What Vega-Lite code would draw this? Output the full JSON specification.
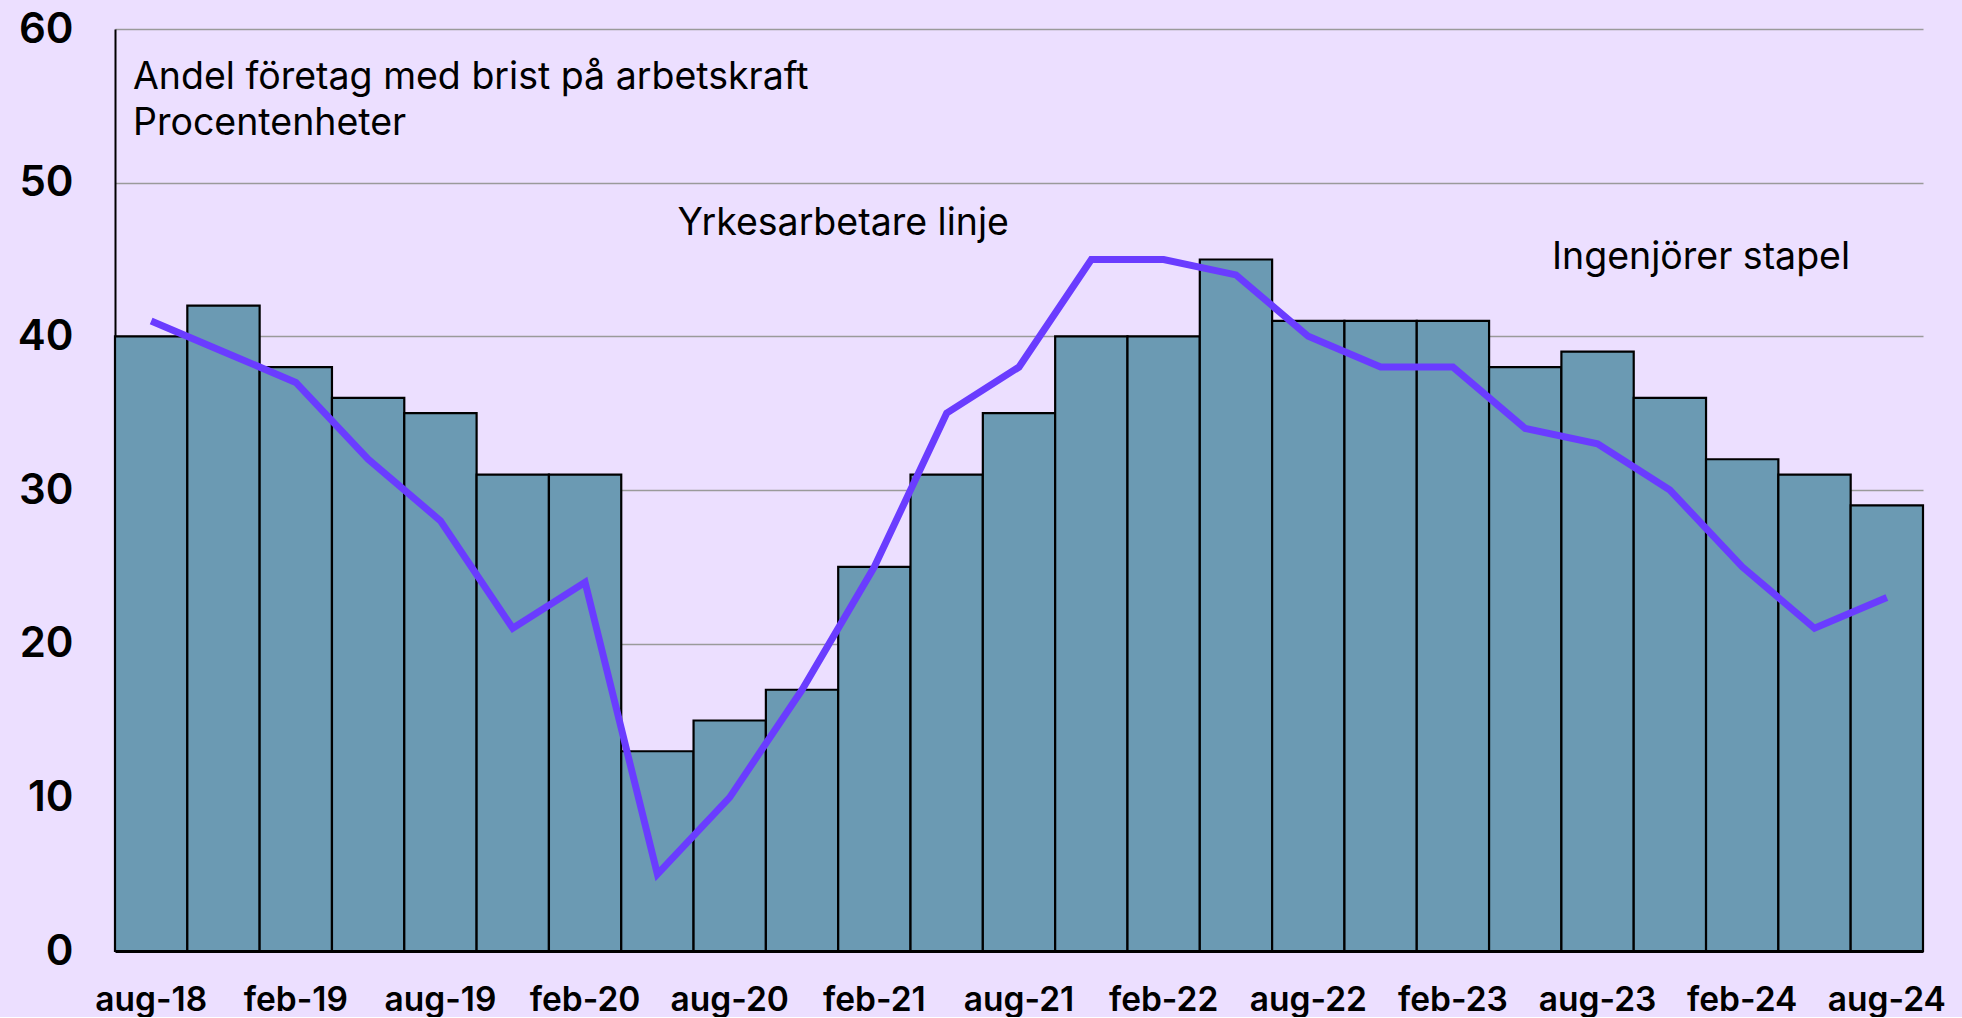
{
  "$schema": "https://vega.github.io/schema/vega-lite/v6.json",
  "autosize": {"type": "none"},
  "padding": {"left": 115, "top": 29, "right": 39, "bottom": 66},
  "width": 1808,
  "height": 922,
  "background": "#ecdfff",
  "config": {
    "view": {"stroke": null},
    "font": "Inter"
  },
  "datasets": {
    "main": [
      {"kvartal": "aug-18", "ingenjorer": 40, "yrkesarbetare": 41},
      {"kvartal": "nov-18", "ingenjorer": 42, "yrkesarbetare": 39},
      {"kvartal": "feb-19", "ingenjorer": 38, "yrkesarbetare": 37},
      {"kvartal": "maj-19", "ingenjorer": 36, "yrkesarbetare": 32},
      {"kvartal": "aug-19", "ingenjorer": 35, "yrkesarbetare": 28},
      {"kvartal": "nov-19", "ingenjorer": 31, "yrkesarbetare": 21},
      {"kvartal": "feb-20", "ingenjorer": 31, "yrkesarbetare": 24},
      {"kvartal": "maj-20", "ingenjorer": 13, "yrkesarbetare": 5},
      {"kvartal": "aug-20", "ingenjorer": 15, "yrkesarbetare": 10},
      {"kvartal": "nov-20", "ingenjorer": 17, "yrkesarbetare": 17},
      {"kvartal": "feb-21", "ingenjorer": 25, "yrkesarbetare": 25},
      {"kvartal": "maj-21", "ingenjorer": 31, "yrkesarbetare": 35},
      {"kvartal": "aug-21", "ingenjorer": 35, "yrkesarbetare": 38},
      {"kvartal": "nov-21", "ingenjorer": 40, "yrkesarbetare": 45},
      {"kvartal": "feb-22", "ingenjorer": 40, "yrkesarbetare": 45},
      {"kvartal": "maj-22", "ingenjorer": 45, "yrkesarbetare": 44},
      {"kvartal": "aug-22", "ingenjorer": 41, "yrkesarbetare": 40},
      {"kvartal": "nov-22", "ingenjorer": 41, "yrkesarbetare": 38},
      {"kvartal": "feb-23", "ingenjorer": 41, "yrkesarbetare": 38},
      {"kvartal": "maj-23", "ingenjorer": 38, "yrkesarbetare": 34},
      {"kvartal": "aug-23", "ingenjorer": 39, "yrkesarbetare": 33},
      {"kvartal": "nov-23", "ingenjorer": 36, "yrkesarbetare": 30},
      {"kvartal": "feb-24", "ingenjorer": 32, "yrkesarbetare": 25},
      {"kvartal": "maj-24", "ingenjorer": 31, "yrkesarbetare": 21},
      {"kvartal": "aug-24", "ingenjorer": 29, "yrkesarbetare": 23}
    ],
    "titel": [
      {"kvartal": "aug-18", "varde": 56.8, "text": "Andel företag med brist på arbetskraft"},
      {"kvartal": "aug-18", "varde": 53.8, "text": "Procentenheter"}
    ],
    "linjeetikett": [
      {"kvartal": "feb-21", "varde": 47.3, "text": "Yrkesarbetare linje"}
    ],
    "stapeletikett": [
      {"kvartal": "feb-24", "varde": 45.1, "text": "Ingenjörer stapel"}
    ]
  },
  "layer": [
    {
      "data": {"name": "main"},
      "mark": {"type": "bar", "color": "#6b9ab3", "stroke": "#000000", "strokeWidth": 2.2},
      "encoding": {
        "x": {
          "field": "kvartal", "type": "ordinal", "sort": null,
          "scale": {"paddingInner": 0, "paddingOuter": 0},
          "axis": {
            "title": null,
            "values": ["aug-18", "feb-19", "aug-19", "feb-20", "aug-20", "feb-21", "aug-21", "feb-22", "aug-22", "feb-23", "aug-23", "feb-24", "aug-24"],
            "labelAngle": 0,
            "labelFont": "Inter",
            "labelFontSize": 33.5,
            "labelFontWeight": 600,
            "labelColor": "#000000",
            "labelPadding": 33,
            "ticks": false,
            "domainColor": "#000000",
            "domainWidth": 3,
            "grid": false
          }
        },
        "y": {
          "field": "ingenjorer", "type": "quantitative",
          "scale": {"domain": [0, 60], "nice": false},
          "axis": {
            "title": null,
            "values": [0, 10, 20, 30, 40, 50, 60],
            "labelFont": "Inter",
            "labelFontSize": 42,
            "labelFontWeight": 600,
            "labelColor": "#000000",
            "labelPadding": 42,
            "ticks": false,
            "domainColor": "#000000",
            "domainWidth": 2,
            "grid": true,
            "gridColor": "#9a9a9a",
            "gridWidth": 1.5
          }
        }
      }
    },
    {
      "data": {"name": "main"},
      "mark": {"type": "line", "color": "#6a3cff", "strokeWidth": 7, "strokeJoin": "miter"},
      "encoding": {
        "x": {"field": "kvartal", "type": "ordinal", "sort": null},
        "y": {"field": "yrkesarbetare", "type": "quantitative"}
      }
    },
    {
      "data": {"name": "titel"},
      "mark": {"type": "text", "align": "left", "baseline": "middle", "dx": 18, "font": "Inter", "fontSize": 37.5, "color": "#000000"},
      "encoding": {
        "x": {"field": "kvartal", "type": "ordinal", "sort": null, "bandPosition": 0},
        "y": {"field": "varde", "type": "quantitative"},
        "text": {"field": "text"}
      }
    },
    {
      "data": {"name": "linjeetikett"},
      "mark": {"type": "text", "align": "center", "baseline": "middle", "dx": 5, "font": "Inter", "fontSize": 37.5, "color": "#000000"},
      "encoding": {
        "x": {"field": "kvartal", "type": "ordinal", "sort": null, "bandPosition": 0},
        "y": {"field": "varde", "type": "quantitative"},
        "text": {"field": "text"}
      }
    },
    {
      "data": {"name": "stapeletikett"},
      "mark": {"type": "text", "align": "center", "baseline": "middle", "dx": -5, "font": "Inter", "fontSize": 37.5, "color": "#000000"},
      "encoding": {
        "x": {"field": "kvartal", "type": "ordinal", "sort": null, "bandPosition": 0},
        "y": {"field": "varde", "type": "quantitative"},
        "text": {"field": "text"}
      }
    }
  ]
}
